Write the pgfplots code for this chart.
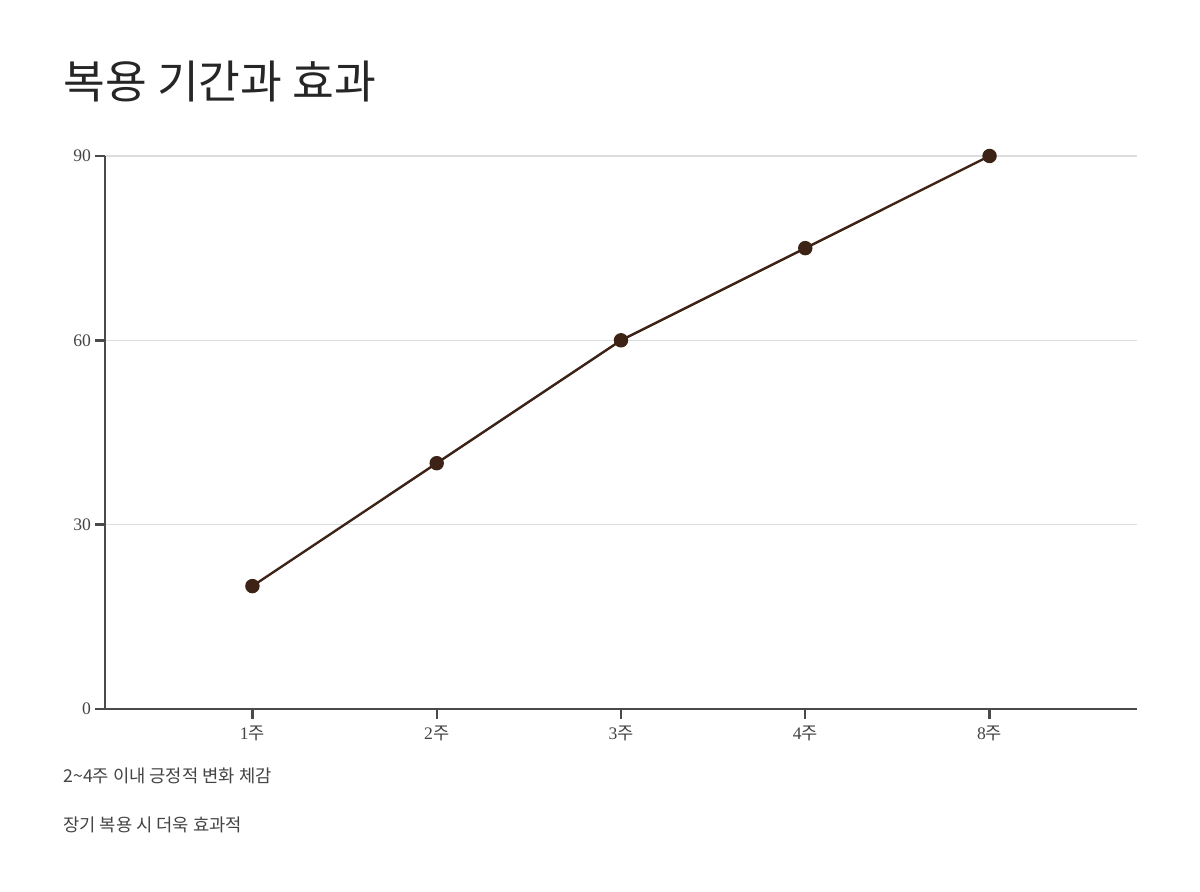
\documentclass[border=0pt]{standalone}
\usepackage{fontspec}
\setmainfont{Liberation Serif}
\newfontfamily\kr{Noto Sans CJK KR}
\usepackage{pgfplots}
\pgfplotsset{compat=1.18}
\definecolor{linec}{HTML}{3D2216}
\definecolor{axc}{HTML}{4A4A4A}
\definecolor{gridc}{HTML}{DDDDDD}
\definecolor{txt}{HTML}{444444}
\begin{document}
\begin{tikzpicture}[x=0.5pt,y=0.5pt]
\path[use as bounding box, fill=white] (0,0) rectangle (1200,892);
\node[anchor=base west, inner sep=0pt, text=black!85] at (63,892-99) {\kr\fontsize{22.7pt}{27pt}\selectfont 복용 기간과 효과};
\begin{axis}[
  at={(52.5pt,91.5pt)}, anchor=south west,
  scale only axis, width=516pt, height=276.5pt,
  xmin=-0.8, xmax=4.8, ymin=0, ymax=90,
  axis x line=bottom, axis y line=left,
  axis line style={axc, line width=1.2pt, -},
  xtick={0,1,2,3,4},
  xticklabels={1{\kr 주},2{\kr 주},3{\kr 주},4{\kr 주},8{\kr 주}},
  ytick={0,30,60,90},
  tick align=outside,
  major tick length=5pt,
  tick style={axc, line width=1.2pt},
  ymajorgrids, grid style={gridc, line width=0.6pt},
  tick label style={font=\fontsize{8.8pt}{10pt}\selectfont, text=txt},
  /pgf/number format/assume math mode=true,
  xticklabel style={yshift=0pt},
  yticklabel style={xshift=1.5pt},
  clip=false,
]
\addplot[linec, line width=1.2pt, mark=*, mark size=3pt, mark options={fill=linec, draw=linec}] coordinates {(0,20) (1,40) (2,60) (3,75) (4,90)};
\end{axis}
\node[anchor=base west, inner sep=0pt, text=txt] at (63,892-783) {\kr\fontsize{8.85pt}{10pt}\selectfont 2\char`\~4주 이내 긍정적 변화 체감};
\node[anchor=base west, inner sep=0pt, text=txt] at (63,892-832) {\kr\fontsize{8.85pt}{10pt}\selectfont 장기 복용 시 더욱 효과적};
\end{tikzpicture}
\end{document}
